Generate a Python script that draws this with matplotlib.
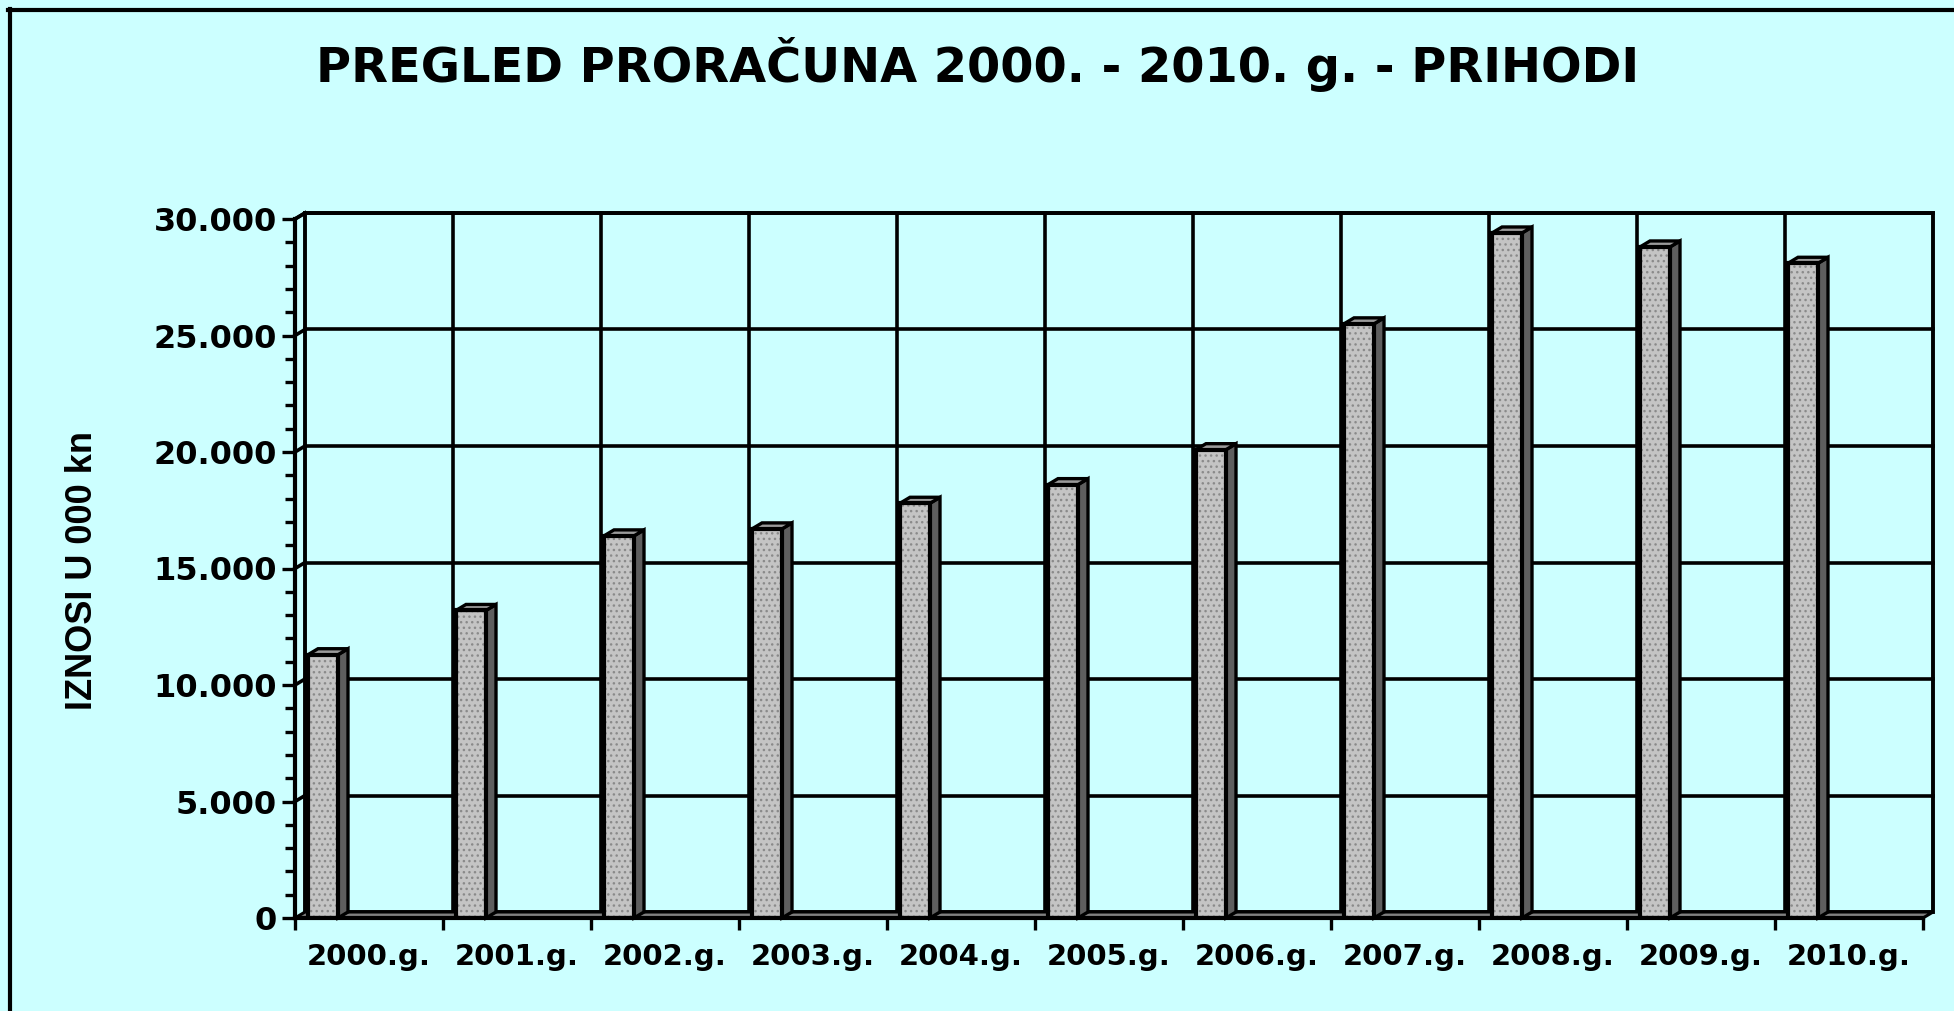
import matplotlib
matplotlib.use("Agg")
import matplotlib.pyplot as plt
from matplotlib.patches import Polygon
from matplotlib.lines import Line2D
from matplotlib import font_manager
from matplotlib.ticker import FuncFormatter, MultipleLocator

# ---- data ----
years = ["2000.g.", "2001.g.", "2002.g.", "2003.g.", "2004.g.", "2005.g.",
         "2006.g.", "2007.g.", "2008.g.", "2009.g.", "2010.g."]
prihodi = [11300, 13200, 16400, 16700, 17800, 18600, 20100, 25500, 29400, 28800, 28100]
y_ticks = [0, 5000, 10000, 15000, 20000, 25000, 30000]

title = "PREGLED PRORAČUNA 2000. - 2010. g. - PRIHODI"
ylabel = "IZNOSI U 000 kn"

BG = "#CCFFFF"
W, H = 1954, 1011

names = {f.name for f in font_manager.fontManager.ttflist}
narrow = "Liberation Sans Narrow" if "Liberation Sans Narrow" in names else None

fig = plt.figure(figsize=(W / 100, H / 100), dpi=100, facecolor=BG)
ax = fig.add_axes([295 / W, (H - 918) / H, (1923 - 295) / W, (918 - 219) / H])
ax.patch.set_visible(False)
n = len(years)
ax.set_xlim(0, n)
ax.set_ylim(0, 30000)

# 3D depth offsets (data units)
DX = 10 / 148
DY = 6 * 30000 / 699
GLW = 2.6

# back wall
top = y_ticks[-1]
ax.add_patch(Polygon([(DX, DY), (n + DX, DY), (n + DX, top + DY), (DX, top + DY)],
                     closed=True, facecolor=BG, edgecolor="black", lw=2.8,
                     zorder=0.5, clip_on=False))
for v in y_ticks[1:]:
    ax.plot([DX, n + DX], [v + DY, v + DY], color="black", lw=GLW, zorder=0.6, clip_on=False)
    ax.plot([0, DX], [v, v + DY], color="black", lw=GLW, zorder=0.6, clip_on=False)
for k in range(1, n):
    ax.plot([k + DX, k + DX], [DY, top + DY], color="black", lw=GLW, zorder=0.6, clip_on=False)
ax.plot([0, DX], [top, top + DY], color="black", lw=GLW, zorder=0.6, clip_on=False)

# floor
ax.add_patch(Polygon([(0, 0), (n, 0), (n + DX, DY), (DX, DY)], closed=True,
                     facecolor="#808080", edgecolor="black", lw=2.2, zorder=0.7, clip_on=False))

# bars
off = 13 / 148
bw = 30 / 148
xs = [i + off for i in range(n)]
plt.rcParams["hatch.linewidth"] = 1.0
ax.bar(xs, prihodi, width=bw, align="edge", facecolor="#C4C4C4",
       edgecolor="#8A8A8A", hatch="...", lw=0, zorder=2)
ax.bar(xs, prihodi, width=bw, align="edge", fill=False,
       edgecolor="black", lw=3.0, zorder=2.5)
for x, v in zip(xs, prihodi):
    side = [(x + bw, 0), (x + bw + DX, DY), (x + bw + DX, v + DY), (x + bw, v)]
    topf = [(x, v), (x + bw, v), (x + bw + DX, v + DY), (x + DX, v + DY)]
    ax.add_patch(Polygon(side, closed=True, facecolor="#5E5E5E", edgecolor="black",
                         lw=2.4, zorder=2.2, clip_on=False))
    ax.add_patch(Polygon(topf, closed=True, facecolor="#9A9A9A", edgecolor="black",
                         lw=2.4, zorder=2.2, clip_on=False))

# spines and ticks
for s in ["top", "right"]:
    ax.spines[s].set_visible(False)
for s in ["left", "bottom"]:
    ax.spines[s].set_linewidth(3.0)
    ax.spines[s].set_zorder(3)

ax.set_yticks(y_ticks)
ax.yaxis.set_minor_locator(MultipleLocator(1000))
ax.yaxis.set_major_formatter(FuncFormatter(lambda v, p: f"{int(v):,}".replace(",", ".")))
ax.tick_params(axis="y", which="major", length=9.5, width=2.4, pad=3.5,
               labelsize=23)
ax.tick_params(axis="y", which="minor", length=7.2, width=2.4)
for lab in ax.get_yticklabels():
    lab.set_fontweight("bold")
    lab.set_family("DejaVu Sans")

ax.set_xticks(range(n + 1))
ax.set_xticklabels([])
ax.set_xticks([i + 0.5 for i in range(n)], minor=True)
ax.set_xticklabels(years, minor=True, fontsize=21, fontweight="bold", family="DejaVu Sans")
ax.tick_params(axis="x", which="major", length=8.5, width=2.4, direction="out")
ax.tick_params(axis="x", which="minor", length=0, pad=18)

# texts
fig.text(978 / W, 1 - 82 / H, title, ha="center", va="baseline",
         fontsize=34.5, fontweight="bold", family="DejaVu Sans")
if narrow:
    fig.text(83 / W, 1 - 570 / H, ylabel, rotation=90, ha="center", va="center",
             fontsize=30, fontweight="bold", family=narrow)
else:
    fig.text(83 / W, 1 - 570 / H, ylabel, rotation=90, ha="center", va="center",
             fontsize=26, fontweight="bold", family="Liberation Sans")

# outer frame (left and top edges)
fig.add_artist(Line2D([9.5 / W, 9.5 / W], [0, 1 - 9 / H], color="black", lw=3,
                      transform=fig.transFigure))
fig.add_artist(Line2D([8 / W, 1], [1 - 10 / H, 1 - 10 / H], color="black", lw=3,
                      transform=fig.transFigure))

fig.savefig("out.png", dpi=100, facecolor=BG)
